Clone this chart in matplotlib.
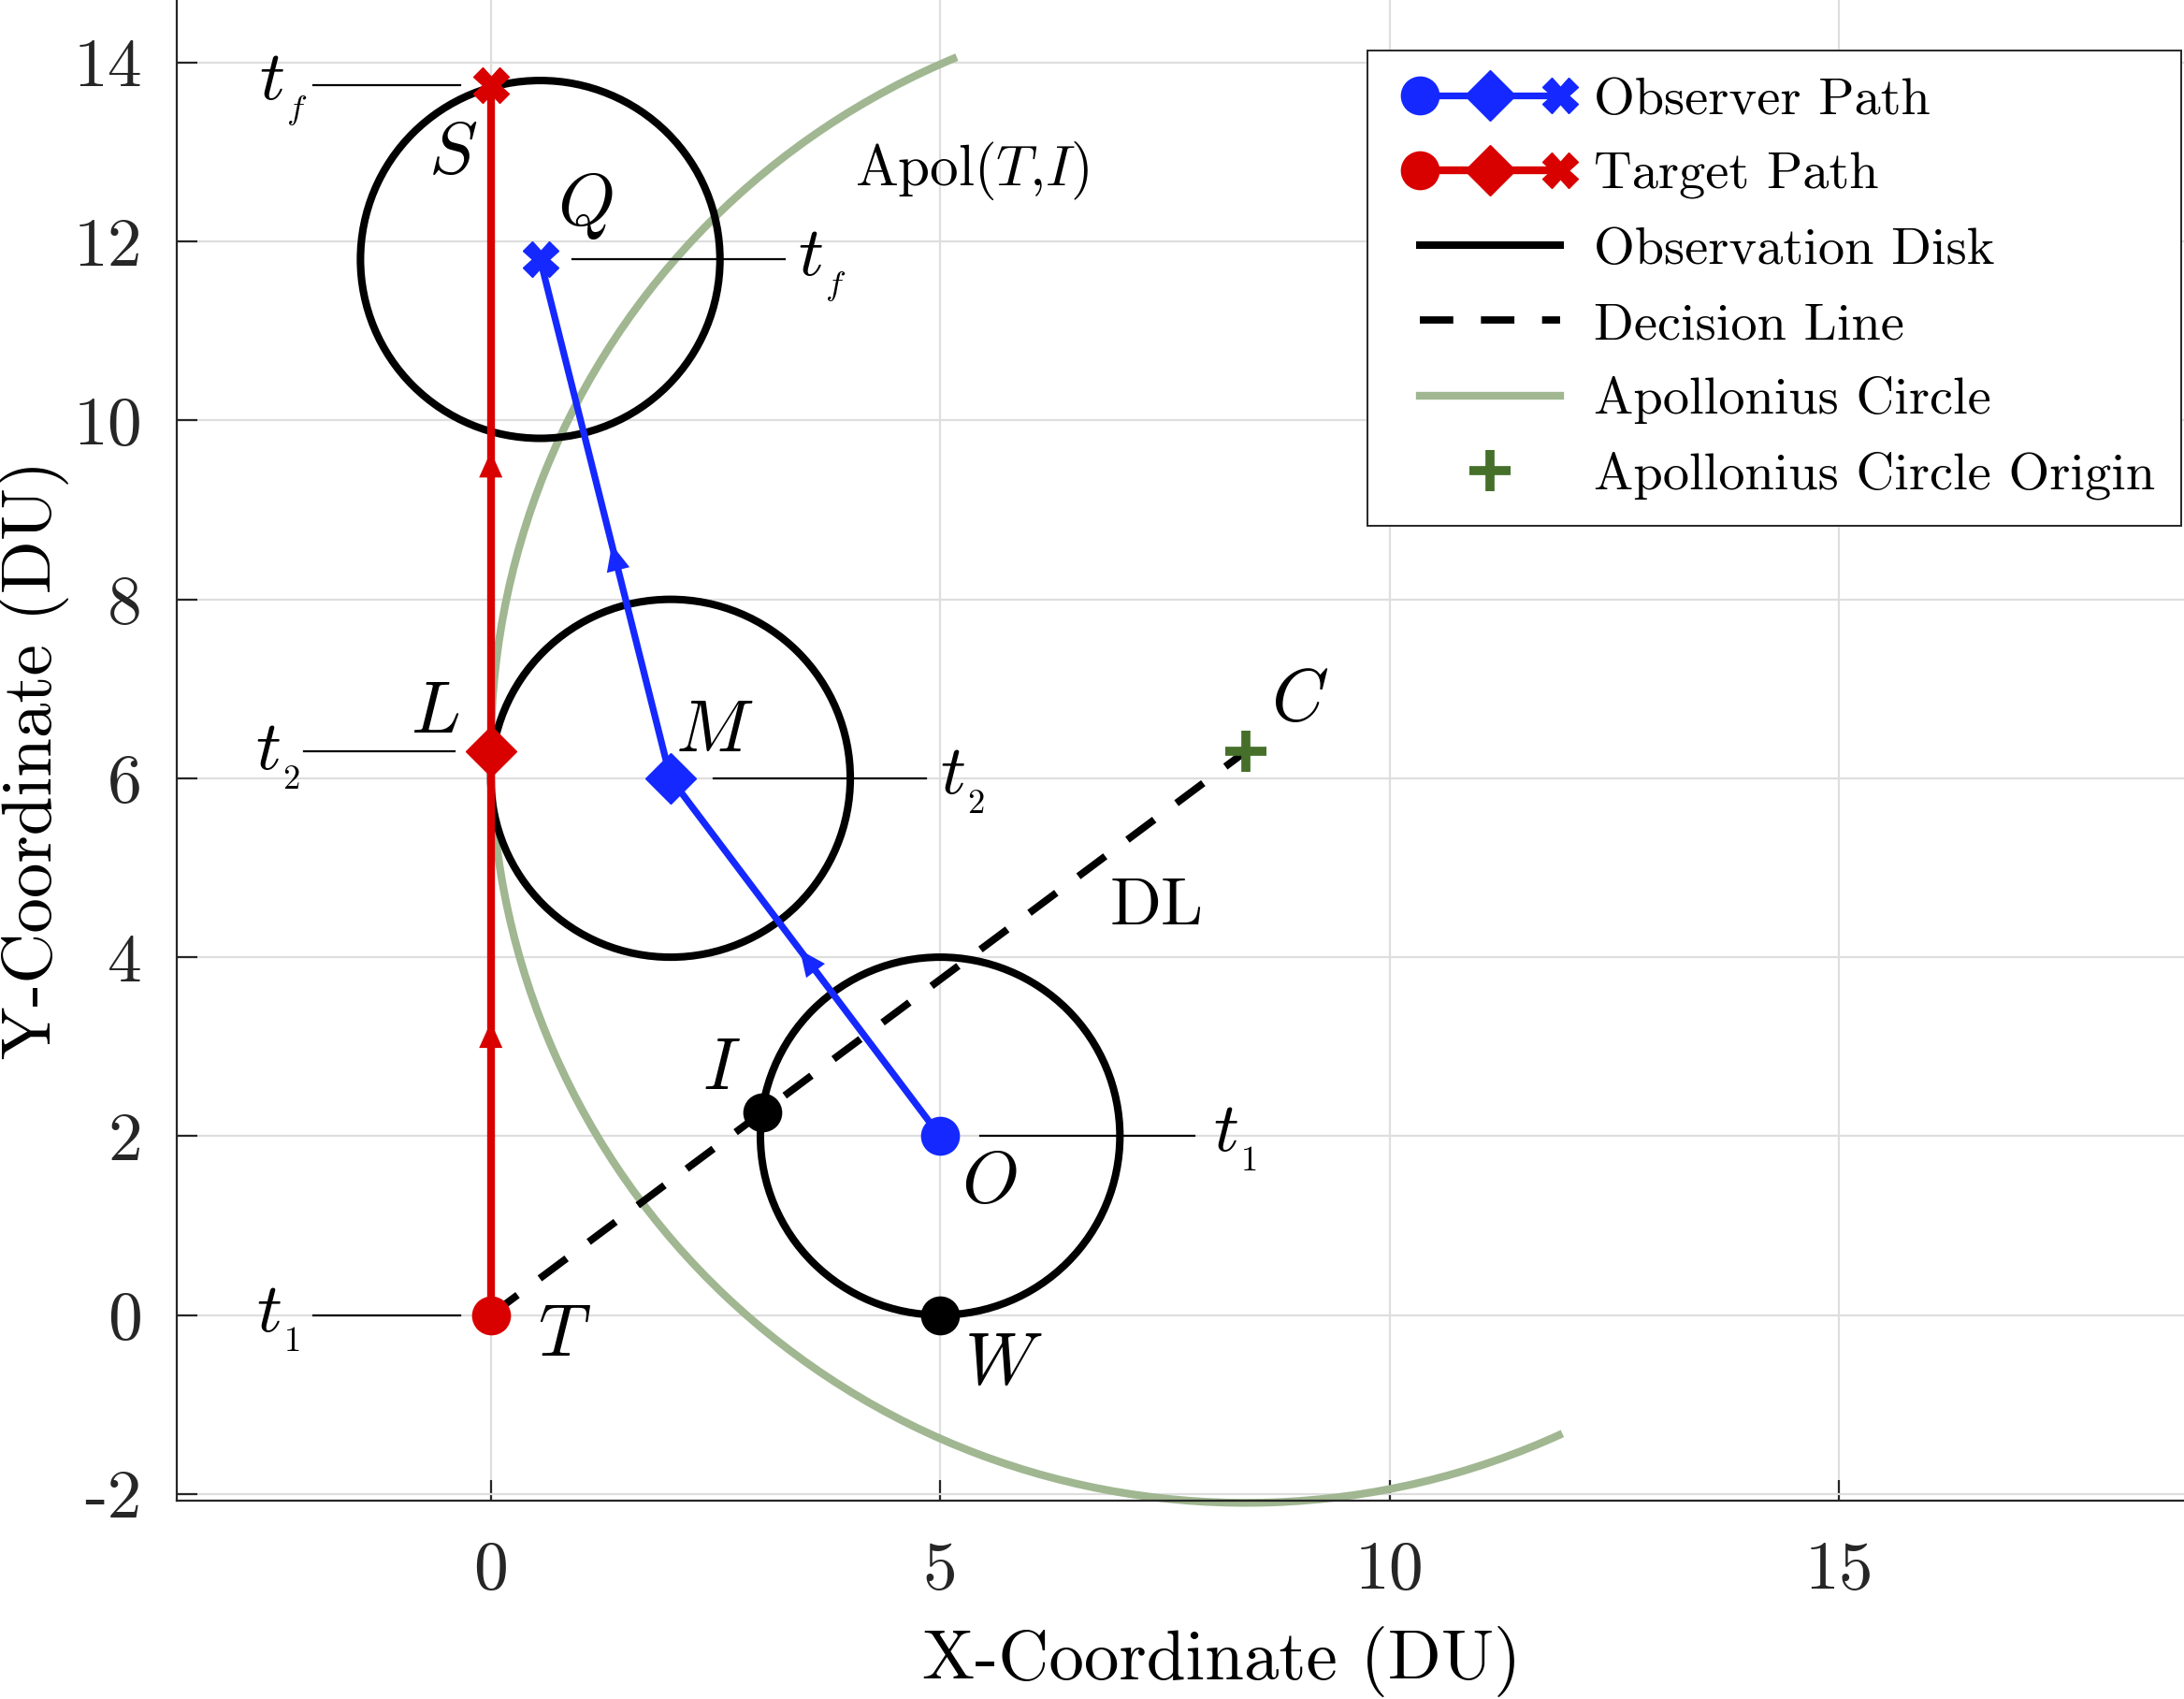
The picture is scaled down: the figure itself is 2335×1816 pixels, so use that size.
import numpy as np
import matplotlib
matplotlib.use("Agg")
import matplotlib.pyplot as plt
from matplotlib.patches import Circle, Arc, FancyArrowPatch
from matplotlib.lines import Line2D
from matplotlib.legend_handler import HandlerBase

plt.rcParams['font.family'] = 'cmr10'
plt.rcParams['mathtext.fontset'] = 'cm'
plt.rcParams['axes.unicode_minus'] = False

# --- data (distance units) ---
target_x = [0.0, 0.0, 0.0]          # T, L, S
target_y = [0.0, 6.3, 13.75]
observer_x = [5.0, 2.0, 0.55]       # O, M, Q
observer_y = [2.0, 6.0, 11.8]
disk_radius = 2.0
apol_center = (8.4, 6.3)            # C
apol_radius = 8.4
apol_angles = (112.5, 294.8)        # drawn part of the circle, degrees
point_I = (3.02, 2.26)
point_W = (5.0, 0.0)

x_ticks = [0, 5, 10, 15]
y_ticks = [-2, 0, 2, 4, 6, 8, 10, 12, 14]
legend_labels = ['Observer Path', 'Target Path', 'Observation Disk',
                 'Decision Line', 'Apollonius Circle', 'Apollonius Circle Origin']

# colours
blue = '#1428FF'
red = '#D90000'
sage = '#A0B791'
dark_green = '#46702A'
axis_grey = '#262626'

path_markers = [('o', 14.5), ('D', 13.5), ('X', 13.5)]
arrow_frac = [0.52, 0.45]   # where the arrowheads sit on each leg

fig = plt.figure(figsize=(11.675, 9.08), dpi=200)
ax = fig.add_axes([0.0811, 0.1165, 0.9189, 0.8835])
ax.set_xlim(-3.49, 18.84)
ax.set_ylim(-2.08, 14.70)

ax.grid(True, color='#DEDEDE', lw=0.8)
ax.set_axisbelow(True)
for s in ['top', 'right']:
    ax.spines[s].set_visible(False)
for s in ['left', 'bottom']:
    ax.spines[s].set_color(axis_grey)
    ax.spines[s].set_linewidth(0.8)
ax.set_xticks(x_ticks)
ax.set_yticks(y_ticks)
ax.tick_params(direction='in', length=8, width=0.8, color=axis_grey,
               labelsize=26.5, labelcolor=axis_grey)
ax.tick_params(axis='y', pad=13.5)
ax.tick_params(axis='x', pad=15.5)

# Apollonius circle
ax.add_patch(Arc(apol_center, 2 * apol_radius, 2 * apol_radius,
                 theta1=apol_angles[0], theta2=apol_angles[1],
                 color=sage, lw=3.0, zorder=1.5, clip_on=False))

# observation disks around each observer position
for cx, cy in zip(observer_x, observer_y):
    ax.add_patch(Circle((cx, cy), disk_radius, fill=False, ec='k', lw=2.9, zorder=2))

# decision line T -> C
ax.plot([target_x[0], apol_center[0]], [target_y[0], apol_center[1]],
        color='k', lw=2.8, dashes=(4.6, 3.8), zorder=2.5)


def draw_path(xs, ys, color, lw):
    ax.plot(xs, ys, color=color, lw=lw, zorder=3)
    for i in range(len(xs) - 1):
        p0 = np.array([xs[i], ys[i]])
        p1 = np.array([xs[i + 1], ys[i + 1]])
        d = (p1 - p0) / np.linalg.norm(p1 - p0)
        tip = p0 + arrow_frac[i] * (p1 - p0)
        ax.add_patch(FancyArrowPatch(tip - 0.4 * d, tip,
                                     arrowstyle='-|>,head_length=10,head_width=4.5',
                                     mutation_scale=1, color=color, lw=0,
                                     shrinkA=0, shrinkB=0, zorder=3.5))
    for x, y, (m, ms) in zip(xs, ys, path_markers):
        ax.plot(x, y, ls='none', marker=m, ms=ms, color=color, mec=color,
                mew=0.5, zorder=4)


draw_path(target_x, target_y, red, 3.0)
draw_path(observer_x, observer_y, blue, 2.6)

ax.plot(apol_center[0], apol_center[1], ls='none', marker='+', ms=16, mew=3.5,
        color=dark_green, zorder=4)
for p in [point_I, point_W]:
    ax.plot(p[0], p[1], ls='none', marker='o', ms=14, color='k', zorder=4)

# time tick leaders: (anchor, start offset, end offset)
T, L, S = [(target_x[i], target_y[i]) for i in range(3)]
O, M, Q = [(observer_x[i], observer_y[i]) for i in range(3)]
leaders = [(S, -1.97, -0.34), (L, -2.08, -0.40), (T, -1.97, -0.34),
           (Q, 0.36, 2.72), (M, 0.48, 2.84), (O, 0.45, 2.83)]
for (px, py), a, b in leaders:
    ax.plot([px + a, px + b], [py, py], color='k', lw=0.8, zorder=3)

# labels: (text, anchor, dx, dy, size)
labels = [
    (r'$t_{_f}$', S, -2.31, -0.07, 27), (r'$S$', S, -0.42, -0.78, 28),
    (r'$Q$', Q, 0.50, 0.60, 28), (r'$t_{_f}$', Q, 3.14, -0.08, 27),
    (r'$t_{_2}$', L, -2.37, -0.07, 27), (r'$L$', L, -0.62, 0.42, 28),
    (r'$M$', M, 0.49, 0.51, 28), (r'$t_{_2}$', M, 3.25, -0.04, 27),
    (r'$t_{_1}$', T, -2.37, -0.05, 27), (r'$T$', T, 0.82, -0.25, 28),
    (r'$t_{_1}$', O, 3.28, -0.04, 27), (r'$O$', O, 0.55, -0.54, 28),
    (r'$I$', point_I, -0.45, 0.47, 28), (r'$W$', point_W, 0.70, -0.56, 28),
    (r'$C$', apol_center, 0.60, 0.55, 28),
    ('DL', apol_center, -0.99, -1.75, 26),
]
for txt, (px, py), dx, dy, fs in labels:
    ax.text(px + dx, py + dy, txt, fontsize=fs, ha='center', va='center', zorder=5)
ax.text(5.35, 12.79, r'Apol$(T{,}I)$', fontsize=22, ha='center', va='center', zorder=5)

ax.set_xlabel('X-Coordinate (DU)', fontsize=27)
ax.set_ylabel('Y-Coordinate (DU)', fontsize=27)
ax.xaxis.set_label_coords(0.5205, -0.083)
ax.yaxis.set_label_coords(-0.054, 0.494)


class RowHandler(HandlerBase):
    def __init__(self, color, lw=0.0, dashes=None, marks=()):
        super().__init__()
        self.color = color
        self.lw = lw
        self.dashes = dashes
        self.marks = marks

    def create_artists(self, legend, orig_handle, xdescent, ydescent,
                       width, height, fontsize, trans):
        y = (height - ydescent) / 2.0
        x0 = -xdescent + 10.0
        x1 = -xdescent + width
        arts = []
        if self.lw > 0:
            ln = Line2D([x0, x1], [y, y], color=self.color, lw=self.lw)
            if self.dashes:
                ln.set_dashes(self.dashes)
            arts.append(ln)
        for frac, m, ms, mew in self.marks:
            arts.append(Line2D([x0 + frac * (x1 - x0)], [y], ls='none', marker=m,
                               ms=ms, mew=mew, color=self.color, mec=self.color))
        for a in arts:
            a.set_transform(trans)
        return arts


path_marks = [(0.0, 'o', 14.5, 0.5), (0.5, 'D', 13.5, 0.5), (1.0, 'X', 13.5, 0.5)]
handlers = [RowHandler(blue, 2.6, marks=path_marks),
            RowHandler(red, 3.0, marks=path_marks),
            RowHandler('k', 2.9),
            RowHandler('k', 2.8, dashes=(4.6, 3.8)),
            RowHandler(sage, 3.0),
            RowHandler(dark_green, marks=[(0.5, '+', 16, 3.5)])]
handles = [Line2D([], []) for _ in handlers]
leg = ax.legend(handles, legend_labels, handler_map=dict(zip(handles, handlers)),
                loc='upper right', bbox_to_anchor=(0.9987, 0.970),
                bbox_transform=fig.transFigure, fontsize=20.3, handlelength=3.14,
                handletextpad=0.64, labelspacing=0.52, borderpad=0.5,
                borderaxespad=0, fancybox=False, framealpha=1, edgecolor=axis_grey)
leg.get_frame().set_linewidth(0.7)
leg.set_zorder(10)

fig.savefig('out.png', dpi=200)
